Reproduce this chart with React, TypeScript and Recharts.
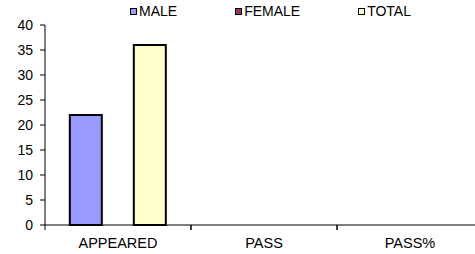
import { BarChart, Bar, XAxis, YAxis } from 'recharts';

const categories = ['APPEARED', 'PASS', 'PASS%'];
const maleValues = [22, 0, 0];
const femaleValues = [0, 0, 0];
const totalValues = [36, 0, 0];
const yTicks = [0, 5, 10, 15, 20, 25, 30, 35, 40];

const series = [
    { key: 'male', name: 'MALE', color: '#9999FF' },
    { key: 'female', name: 'FEMALE', color: '#993366' },
    { key: 'total', name: 'TOTAL', color: '#FFFFCC' },
];

const data = categories.map((c, i) => ({
    name: c,
    male: maleValues[i],
    female: femaleValues[i],
    total: totalValues[i],
}));

const CHART_W = 483;
const AXIS_W = 45;
const BAND = (CHART_W - AXIS_W) / categories.length;

function CategoryTick(props: any) {
    const { x, payload } = props;
    const left = x - BAND / 2;
    return (
        <g>
            <line x1={left} y1={225} x2={left} y2={230} stroke="#000" />
            <line x1={left + BAND} y1={225} x2={left + BAND} y2={230} stroke="#000" />
            <text x={x} y={248} textAnchor="middle" fontSize={14.5} fill="#000">
                {payload.value}
            </text>
        </g>
    );
}

export default function App() {
    return (
        <div
            style={{
                position: 'absolute',
                left: 0,
                top: 0,
                width: 475,
                height: 254,
                overflow: 'hidden',
                background: '#fff',
                fontFamily: '"Liberation Sans", Arial, sans-serif',
            }}
        >
            <div style={{ position: 'absolute', left: 130, top: 2, display: 'flex', gap: 58, fontSize: 14, lineHeight: '18px' }}>
                {series.map((s) => (
                    <div key={s.key} style={{ display: 'flex', alignItems: 'center' }}>
                        <span
                            style={{
                                display: 'inline-block',
                                width: 5,
                                height: 5,
                                background: s.color,
                                border: '1.5px solid #000',
                                marginRight: 2,
                            }}
                        />
                        <span>{s.name}</span>
                    </div>
                ))}
            </div>
            <BarChart
                width={CHART_W}
                height={254}
                data={data}
                margin={{ top: 25, right: 0, bottom: 0, left: 0 }}
                barCategoryGap="17%"
                barGap={0}
            >
                <XAxis
                    dataKey="name"
                    height={29}
                    stroke="#000"
                    tickLine={false}
                    tick={<CategoryTick />}
                />
                <YAxis
                    width={AXIS_W}
                    domain={[0, 40]}
                    ticks={yTicks}
                    interval={0}
                    stroke="#000"
                    tickSize={5}
                    tickMargin={7}
                    tick={{ fill: '#000', fontSize: 14 }}
                />
                {series.map((s) => (
                    <Bar
                        key={s.key}
                        dataKey={s.key}
                        name={s.name}
                        fill={s.color}
                        stroke="#000"
                        strokeWidth={2}
                        isAnimationActive={false}
                    />
                ))}
            </BarChart>
        </div>
    );
}
